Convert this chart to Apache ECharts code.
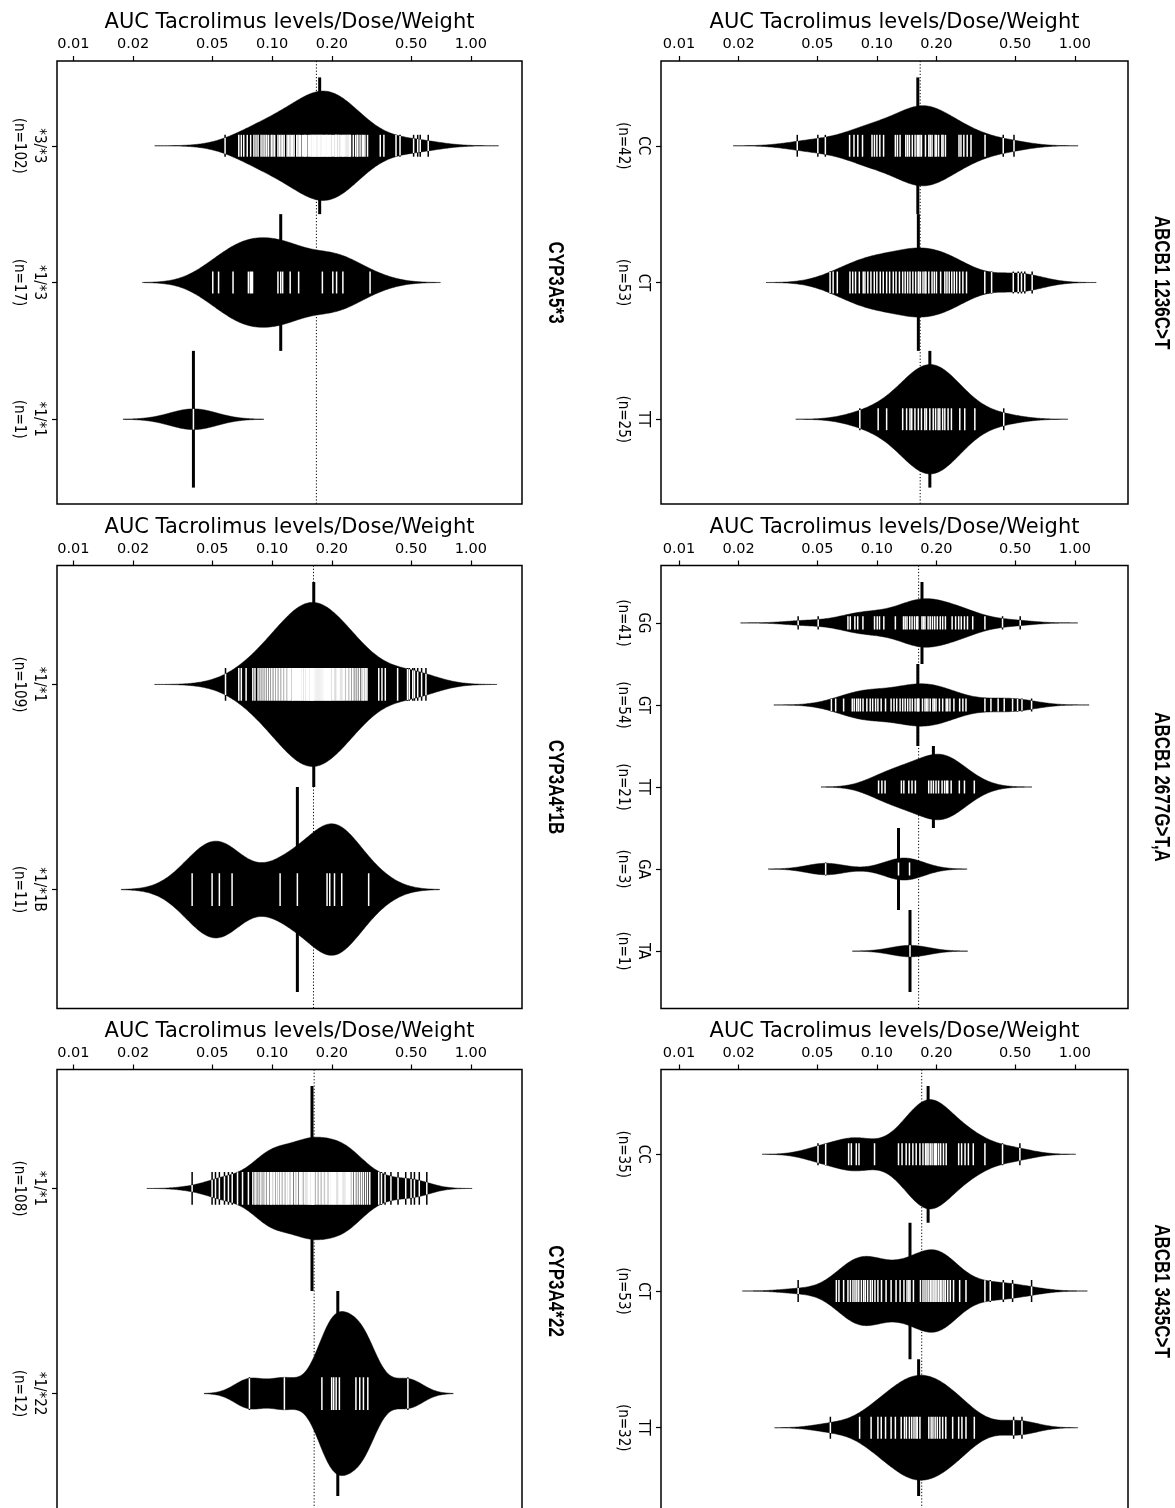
<!DOCTYPE html>
<html>
<head>
<meta charset="utf-8">
<script src="https://cdn.jsdelivr.net/npm/echarts@6/dist/echarts.min.js"></script>
<style>
  html, body { margin: 0; padding: 0; background: #ffffff; }
  #chart { width: 1175px; height: 1508px; }
</style>
</head>
<body>
<div id="chart"></div>
<script>
// ---- Axis ticks (AUC, log scale) ----
const aucTicks = [0.01, 0.02, 0.05, 0.10, 0.20, 0.50, 1.00];
const aucTickLabels = ['0.01', '0.02', '0.05', '0.10', '0.20', '0.50', '1.00'];
const aucTitle = 'AUC Tacrolimus levels/Dose/Weight';

// ---- CYP3A5*3 ----
const cyp3a5Names = ['*3/*3', '*1/*3', '*1/*1'];
const cyp3a5_33 = [
  0.058,
  0.068, 0.070, 0.072, 0.075, 0.078,
  0.081, 0.083, 0.085, 0.088, 0.090, 0.092, 0.094, 0.096, 0.099,
  0.101, 0.103, 0.107, 0.109, 0.111, 0.113, 0.115, 0.119, 0.121, 0.123, 0.125,
  0.127, 0.129, 0.133, 0.135, 0.137, 0.139, 0.142, 0.144, 0.146, 0.147, 0.149, 0.152, 0.154, 0.156, 0.157,
  0.159, 0.160, 0.162, 0.163, 0.165, 0.166, 0.168, 0.170, 0.171, 0.173,
  0.174, 0.176, 0.178, 0.179, 0.181, 0.183, 0.185, 0.187, 0.189, 0.190, 0.192, 0.194, 0.196, 0.198,
  0.201, 0.204, 0.207, 0.209, 0.210, 0.212, 0.215, 0.217, 0.220, 0.223, 0.226, 0.227, 0.229, 0.232, 0.235,
  0.238, 0.241, 0.244, 0.246, 0.248,
  0.256, 0.263, 0.268, 0.270, 0.277, 0.284, 0.288, 0.293, 0.302,
  0.350, 0.365, 0.420, 0.440, 0.515, 0.540, 0.556, 0.610
];
const cyp3a5_13 = [0.0503, 0.0538, 0.0636, 0.0760, 0.0777, 0.0787, 0.0797, 0.107, 0.1105, 0.113,
  0.1233, 0.136, 0.179, 0.202, 0.211, 0.227, 0.311];
const cyp3a5_11 = [0.0402];

// ---- CYP3A4*1B ----
const cyp3a4_1bNames = ['*1/*1', '*1/*1B'];
const cyp3a4_1b_11 = [
  0.0583,
  0.068, 0.070, 0.074,
  0.080, 0.082, 0.085, 0.087, 0.089, 0.091, 0.093, 0.095, 0.097, 0.099,
  0.101, 0.103, 0.105, 0.107, 0.109, 0.111, 0.113, 0.115, 0.117, 0.119, 0.121, 0.122, 0.124, 0.126,
  0.127, 0.128, 0.130, 0.131, 0.133, 0.134, 0.136, 0.137, 0.139, 0.140, 0.142, 0.143, 0.145, 0.146,
  0.148, 0.149, 0.151, 0.152, 0.153, 0.155, 0.156, 0.157, 0.158, 0.159, 0.160, 0.161,
  0.162,
  0.164, 0.166, 0.168, 0.170, 0.172, 0.174, 0.176, 0.178, 0.180, 0.182, 0.184, 0.186, 0.188, 0.190,
  0.192, 0.194, 0.196, 0.198,
  0.201, 0.204, 0.207, 0.210, 0.213, 0.216, 0.219, 0.222, 0.225, 0.228, 0.232, 0.236, 0.240, 0.244, 0.248,
  0.253, 0.258, 0.264, 0.270, 0.276, 0.283, 0.287, 0.290, 0.296, 0.300,
  0.344, 0.357, 0.371, 0.428, 0.480, 0.490, 0.510, 0.520, 0.540, 0.565, 0.594
];
const cyp3a4_1b_11b = [0.0396, 0.0499, 0.0543, 0.0629, 0.1097, 0.134, 0.189, 0.195, 0.206, 0.224, 0.306];

// ---- CYP3A4*22 ----
const cyp3a4_22Names = ['*1/*1', '*1/*22'];
const cyp3a4_22_11 = [
  0.0396,
  0.0499, 0.0519, 0.0543, 0.0576,
  0.0603, 0.063, 0.067, 0.071, 0.076,
  0.080, 0.082, 0.083, 0.085, 0.087, 0.088, 0.090, 0.092, 0.093, 0.095, 0.096, 0.098, 0.099,
  0.100, 0.102, 0.103, 0.105, 0.107, 0.108, 0.110, 0.112, 0.114, 0.116, 0.118, 0.119, 0.121, 0.123, 0.125,
  0.127, 0.130, 0.132, 0.134, 0.137, 0.139, 0.141, 0.143, 0.146, 0.148, 0.150, 0.152, 0.154, 0.155,
  0.157, 0.158,
  0.1595, 0.160, 0.161, 0.1615, 0.164, 0.167, 0.170, 0.173, 0.176, 0.179, 0.182, 0.185, 0.188, 0.191,
  0.194, 0.196, 0.199,
  0.201, 0.204, 0.206, 0.209, 0.212, 0.215, 0.218, 0.221, 0.224, 0.227, 0.230, 0.233, 0.236, 0.239,
  0.242, 0.245, 0.249,
  0.253, 0.259, 0.264, 0.270, 0.276, 0.282, 0.288, 0.295, 0.302, 0.310,
  0.344, 0.355, 0.370, 0.396, 0.430, 0.470, 0.500, 0.520, 0.550, 0.600
];
const cyp3a4_22_122 = [0.0769, 0.1153, 0.178, 0.1994, 0.204, 0.210, 0.218, 0.264, 0.276, 0.288, 0.303, 0.482];

// ---- ABCB1 1236C>T ----
const abcb1_1236Names = ['CC', 'CT', 'TT'];
const abcb1_1236_CC = [0.0396, 0.0503, 0.0549, 0.0728, 0.0766, 0.0801, 0.0846, 0.0945, 0.0972, 0.100,
  0.1035, 0.1081, 0.124, 0.127, 0.131, 0.140, 0.143, 0.146, 0.151, 0.156, 0.160, 0.162, 0.165, 0.168,
  0.176, 0.183, 0.186, 0.190, 0.197, 0.200, 0.205, 0.213, 0.216, 0.222, 0.260, 0.266, 0.275, 0.286,
  0.299, 0.352, 0.435, 0.493];
const abcb1_1236_CT = [0.058, 0.0601, 0.0631, 0.0731, 0.0755, 0.078, 0.0815, 0.0853, 0.087, 0.090,
  0.0933, 0.097, 0.100, 0.104, 0.1077, 0.112, 0.116, 0.121, 0.125, 0.130, 0.135, 0.139, 0.143, 0.147,
  0.152, 0.157, 0.162, 0.163, 0.166, 0.171, 0.175, 0.177, 0.183, 0.190, 0.195, 0.200, 0.210, 0.2205,
  0.226, 0.232, 0.239, 0.246, 0.253, 0.262, 0.272, 0.2837, 0.351, 0.380, 0.489, 0.518, 0.538, 0.559, 0.609];
const abcb1_1236_TT = [0.082, 0.1015, 0.112, 0.135, 0.1413, 0.147, 0.150, 0.1557, 0.162, 0.168, 0.1747,
  0.178, 0.1852, 0.1926, 0.198, 0.204, 0.208, 0.215, 0.2205, 0.229, 0.238, 0.2624, 0.278, 0.3126, 0.4375];

// ---- ABCB1 2677G>T,A ----
const abcb1_2677Names = ['GG', 'GT', 'TT', 'GA', 'TA'];
const abcb1_2677_GG = [0.040, 0.0505, 0.0714, 0.0734, 0.0774, 0.080, 0.085, 0.0973, 0.1004, 0.1031,
  0.1084, 0.124, 0.1363, 0.139, 0.142, 0.1466, 0.1506, 0.155, 0.159, 0.161, 0.169, 0.172, 0.175,
  0.1815, 0.186, 0.191, 0.196, 0.202, 0.209, 0.215, 0.222, 0.240, 0.250, 0.259, 0.267, 0.277, 0.287,
  0.305, 0.3515, 0.4315, 0.530];
const abcb1_2677_GT = [0.0589, 0.0619, 0.0679, 0.0751, 0.0768, 0.079, 0.0806, 0.0825, 0.0851, 0.089,
  0.0925, 0.0952, 0.0985, 0.1012, 0.1051, 0.1106, 0.118, 0.122, 0.126, 0.131, 0.135, 0.139, 0.143,
  0.147, 0.151, 0.156, 0.160, 0.162, 0.163, 0.170, 0.175, 0.178, 0.181, 0.186, 0.192, 0.195, 0.199,
  0.207, 0.215, 0.224, 0.228, 0.234, 0.245, 0.262, 0.272, 0.282, 0.3515, 0.377, 0.410, 0.440, 0.485,
  0.514, 0.541, 0.605];
const abcb1_2677_TT = [0.102, 0.106, 0.110, 0.133, 0.1368, 0.145, 0.1505, 0.1565, 0.1828, 0.188, 0.193,
  0.199, 0.205, 0.2135, 0.220, 0.225, 0.228, 0.2373, 0.261, 0.277, 0.3107];
const abcb1_2677_GA = [0.0551, 0.1286, 0.1462];
const abcb1_2677_TA = [0.147];

// ---- ABCB1 3435C>T ----
const abcb1_3435Names = ['CC', 'CT', 'TT'];
const abcb1_3435_CC = [0.0504, 0.0551, 0.072, 0.0743, 0.0787, 0.0812, 0.0973, 0.1286, 0.134, 0.1406,
  0.146, 0.152, 0.158, 0.165, 0.171, 0.176, 0.179, 0.1815, 0.186, 0.190, 0.195, 0.198, 0.200, 0.205,
  0.210, 0.217, 0.224, 0.259, 0.268, 0.279, 0.290, 0.307, 0.3515, 0.4315, 0.528];
const abcb1_3435_CT = [0.040, 0.0624, 0.0643, 0.0679, 0.0714,
  0.0735, 0.0757, 0.0775, 0.0792, 0.081, 0.0835, 0.0858, 0.0874, 0.0898, 0.0927, 0.0948, 0.0978,
  0.1012, 0.1055, 0.1113,
  0.118, 0.125, 0.131, 0.137, 0.142, 0.145, 0.147,
  0.153, 0.166, 0.171, 0.175, 0.179, 0.183, 0.187, 0.190, 0.194, 0.197, 0.201, 0.205, 0.209, 0.213,
  0.218, 0.222, 0.228, 0.235, 0.244, 0.262, 0.282,
  0.3515, 0.374, 0.4355, 0.485, 0.605];
const abcb1_3435_TT = [0.0582, 0.0818, 0.0935, 0.1012, 0.1052, 0.1106, 0.118, 0.124, 0.1327, 0.1379,
  0.141, 0.146, 0.150, 0.154, 0.1577, 0.160, 0.165, 0.183, 0.188, 0.192, 0.197, 0.202, 0.208, 0.215,
  0.223, 0.2415, 0.259, 0.269, 0.282, 0.3107, 0.491, 0.541];

// ---- Panels: which gene sits where, and the kernel bandwidth (log10 units) ----
const panels = [
  { title: 'CYP3A5*3', names: cyp3a5Names, groups: [cyp3a5_33, cyp3a5_13, cyp3a5_11], bw: 0.118, col: 0, row: 0 },
  { title: 'ABCB1 1236C>T', names: abcb1_1236Names, groups: [abcb1_1236_CC, abcb1_1236_CT, abcb1_1236_TT], bw: 0.108, col: 1, row: 0 },
  { title: 'CYP3A4*1B', names: cyp3a4_1bNames, groups: [cyp3a4_1b_11, cyp3a4_1b_11b], bw: 0.119, col: 0, row: 1 },
  { title: 'ABCB1 2677G>T,A', names: abcb1_2677Names, groups: [abcb1_2677_GG, abcb1_2677_GT, abcb1_2677_TT, abcb1_2677_GA, abcb1_2677_TA], bw: 0.097, col: 1, row: 1 },
  { title: 'CYP3A4*22', names: cyp3a4_22Names, groups: [cyp3a4_22_11, cyp3a4_22_122], bw: 0.076, col: 0, row: 2 },
  { title: 'ABCB1 3435C>T', names: abcb1_3435Names, groups: [abcb1_3435_CC, abcb1_3435_CT, abcb1_3435_TT], bw: 0.094, col: 1, row: 2 }
];

// ---- Layout ----
const colLeft = [57, 661];
const colWidth = [465, 467];
const colRange = [[-2.082, 0.257], [-2.091, 0.269]];   // log10 extent of the AUC axis
const rowTop = [61, 565.5, 1069.5];
const rowHeight = 443;

const BEAN_HALF = 0.4;      // widest bean reaches 0.4 category units each side
const DATA_HALF = 0.08;     // half length of the per-observation lines
const MEDIAN_HALF = 0.5;    // half length of the group median line
const GROWN_AGE = 10;       // beans with fewer observations are scaled down
const FONT_SANS = '"Liberation Sans", Arial, Helvetica, sans-serif';

const tickLogs = aucTicks.map(Math.log10);

function median(arr) {
  const s = arr.slice().sort((a, b) => a - b);
  const n = s.length;
  return n % 2 ? s[(n - 1) / 2] : (s[n / 2 - 1] + s[n / 2]) / 2;
}

function kde(logs, bw, t) {
  let s = 0;
  for (let i = 0; i < logs.length; i++) {
    const z = (t - logs[i]) / bw;
    s += Math.exp(-0.5 * z * z);
  }
  return s / (logs.length * bw * Math.sqrt(2 * Math.PI));
}

function tickLabelFor(v) {
  let best = 0;
  for (let i = 1; i < tickLogs.length; i++) {
    if (Math.abs(tickLogs[i] - v) < Math.abs(tickLogs[best] - v)) best = i;
  }
  return aucTickLabels[best];
}

const grids = [], xAxes = [], yAxes = [], series = [], graphics = [];

panels.forEach((p, pi) => {
  const n = p.groups.length;
  const logs = p.groups.map(g => g.map(Math.log10));
  const grown = p.groups.map(g => Math.min(g.length, GROWN_AGE) / GROWN_AGE);
  const bw = p.bw;

  // largest scaled density over all beans of the panel
  let maxD = 0;
  logs.forEach((lg, gi) => {
    const lo = Math.min(...lg) - 3 * bw, hi = Math.max(...lg) + 3 * bw;
    for (let k = 0; k <= 400; k++) {
      const t = lo + (hi - lo) * k / 400;
      maxD = Math.max(maxD, kde(lg, bw, t) * grown[gi]);
    }
  });
  const halfWidth = (gi, t) => kde(logs[gi], bw, t) * grown[gi] / maxD * BEAN_HALF;

  const left = colLeft[p.col], width = colWidth[p.col], top = rowTop[p.row];
  grids.push({
    left: left, top: top, width: width, height: rowHeight,
    show: true, borderColor: '#000', borderWidth: 1.5, backgroundColor: 'transparent',
    containLabel: false, outerBoundsMode: 'none'
  });

  xAxes.push({
    gridIndex: pi, type: 'value', position: 'top',
    min: colRange[p.col][0], max: colRange[p.col][1],
    axisLine: { show: false, onZero: false },
    splitLine: { show: false },
    axisTick: { show: true, length: 5, customValues: tickLogs, lineStyle: { color: '#000', width: 1.2 } },
    axisLabel: {
      customValues: tickLogs, formatter: v => tickLabelFor(v),
      margin: 9, color: '#000', fontFamily: '"DejaVu Sans", sans-serif', fontSize: 14.5, lineHeight: 15
    },
    name: aucTitle, nameLocation: 'middle', nameGap: 28,
    nameTextStyle: { color: '#000', fontFamily: '"DejaVu Sans", sans-serif', fontSize: 21, lineHeight: 20 }
  });

  const cats = p.groups.map((g, gi) => gi + 1);
  yAxes.push({
    gridIndex: pi, type: 'value', inverse: true,
    min: 0.5 - 0.04 * n, max: n + 0.5 + 0.04 * n,
    axisLine: { show: false, onZero: false },
    splitLine: { show: false },
    axisTick: { show: true, length: 5, customValues: cats, lineStyle: { color: '#000', width: 1.2 } },
    axisLabel: {
      customValues: cats, rotate: -90, margin: 8,
      formatter: v => p.names[Math.round(v) - 1] + '\n(n=' + p.groups[Math.round(v) - 1].length + ')',
      color: '#000', fontFamily: '"Liberation Sans Narrow", "DejaVu Sans Condensed", sans-serif',
      fontSize: 15, lineHeight: 20
    }
  });

  // overall median of the panel (dotted reference line)
  const pooled = [].concat(...p.groups);
  series.push({
    type: 'custom', name: p.title + ' overall', xAxisIndex: pi, yAxisIndex: pi, z: 1, silent: true,
    data: [[Math.log10(median(pooled)), 1]],
    encode: { x: 0, y: 1 },
    renderItem: (params, api) => {
      const cs = params.coordSys;
      const px = api.coord([api.value(0), api.value(1)])[0];
      return {
        type: 'line',
        shape: { x1: px, y1: cs.y, x2: px, y2: cs.y + cs.height },
        style: { stroke: '#000', lineWidth: 1, lineDash: [1.2, 2] }
      };
    }
  });

  // beans: density outline, median line and one line per observation
  series.push({
    type: 'custom', name: p.title, xAxisIndex: pi, yAxisIndex: pi, z: 2, silent: true, clip: true,
    data: p.groups.map((g, gi) => [Math.log10(median(g)), gi + 1]),
    encode: { x: 0, y: 1 },
    renderItem: (params, api) => {
      const gi = params.dataIndex;
      const cat = api.value(1);
      const lg = logs[gi];
      const lo = Math.min(...lg) - 3 * bw, hi = Math.max(...lg) + 3 * bw;
      const upper = [], lower = [];
      const N = 240;
      for (let k = 0; k <= N; k++) {
        const t = lo + (hi - lo) * k / N;
        const hw = halfWidth(gi, t);
        upper.push(api.coord([t, cat - hw]));
        lower.push(api.coord([t, cat + hw]));
      }
      const children = [{
        type: 'polygon',
        shape: { points: upper.concat(lower.reverse()) },
        style: { fill: '#000', stroke: '#000', lineWidth: 0.5 }
      }];
      const m = api.value(0);
      const m1 = api.coord([m, cat - MEDIAN_HALF]), m2 = api.coord([m, cat + MEDIAN_HALF]);
      children.push({
        type: 'line', shape: { x1: m1[0], y1: m1[1], x2: m2[0], y2: m2[1] },
        style: { stroke: '#000', lineWidth: 3 }
      });
      lg.forEach(v => {
        const a = api.coord([v, cat - DATA_HALF]), b = api.coord([v, cat + DATA_HALF]);
        children.push({
          type: 'line', shape: { x1: a[0], y1: a[1], x2: b[0], y2: b[1] },
          style: { stroke: '#000', lineWidth: 1.5 }
        });
      });
      lg.forEach(v => {
        const w = Math.min(DATA_HALF, halfWidth(gi, v));
        const a = api.coord([v, cat - w]), b = api.coord([v, cat + w]);
        children.push({
          type: 'line', shape: { x1: a[0], y1: a[1], x2: b[0], y2: b[1] },
          style: { stroke: '#fff', lineWidth: 1.5 }
        });
      });
      return { type: 'group', children: children };
    }
  });

  // gene title, rotated to read top to bottom, right of the panel
  graphics.push({
    type: 'text',
    x: left + width + 33, y: top + rowHeight / 2,
    rotation: -Math.PI / 2, scaleY: 1.33,
    style: {
      text: p.title, fill: '#000',
      fontFamily: FONT_SANS, fontWeight: 'bold', fontSize: 17,
      textAlign: 'center', textVerticalAlign: 'middle', align: 'center', verticalAlign: 'middle'
    }
  });
});

const chart = echarts.init(document.getElementById('chart'), null, { renderer: 'canvas' });
chart.setOption({
  backgroundColor: '#ffffff',
  animation: false,
  textStyle: { fontFamily: FONT_SANS, color: '#000' },
  grid: grids,
  xAxis: xAxes,
  yAxis: yAxes,
  series: series,
  graphic: graphics
});
</script>
</body>
</html>
